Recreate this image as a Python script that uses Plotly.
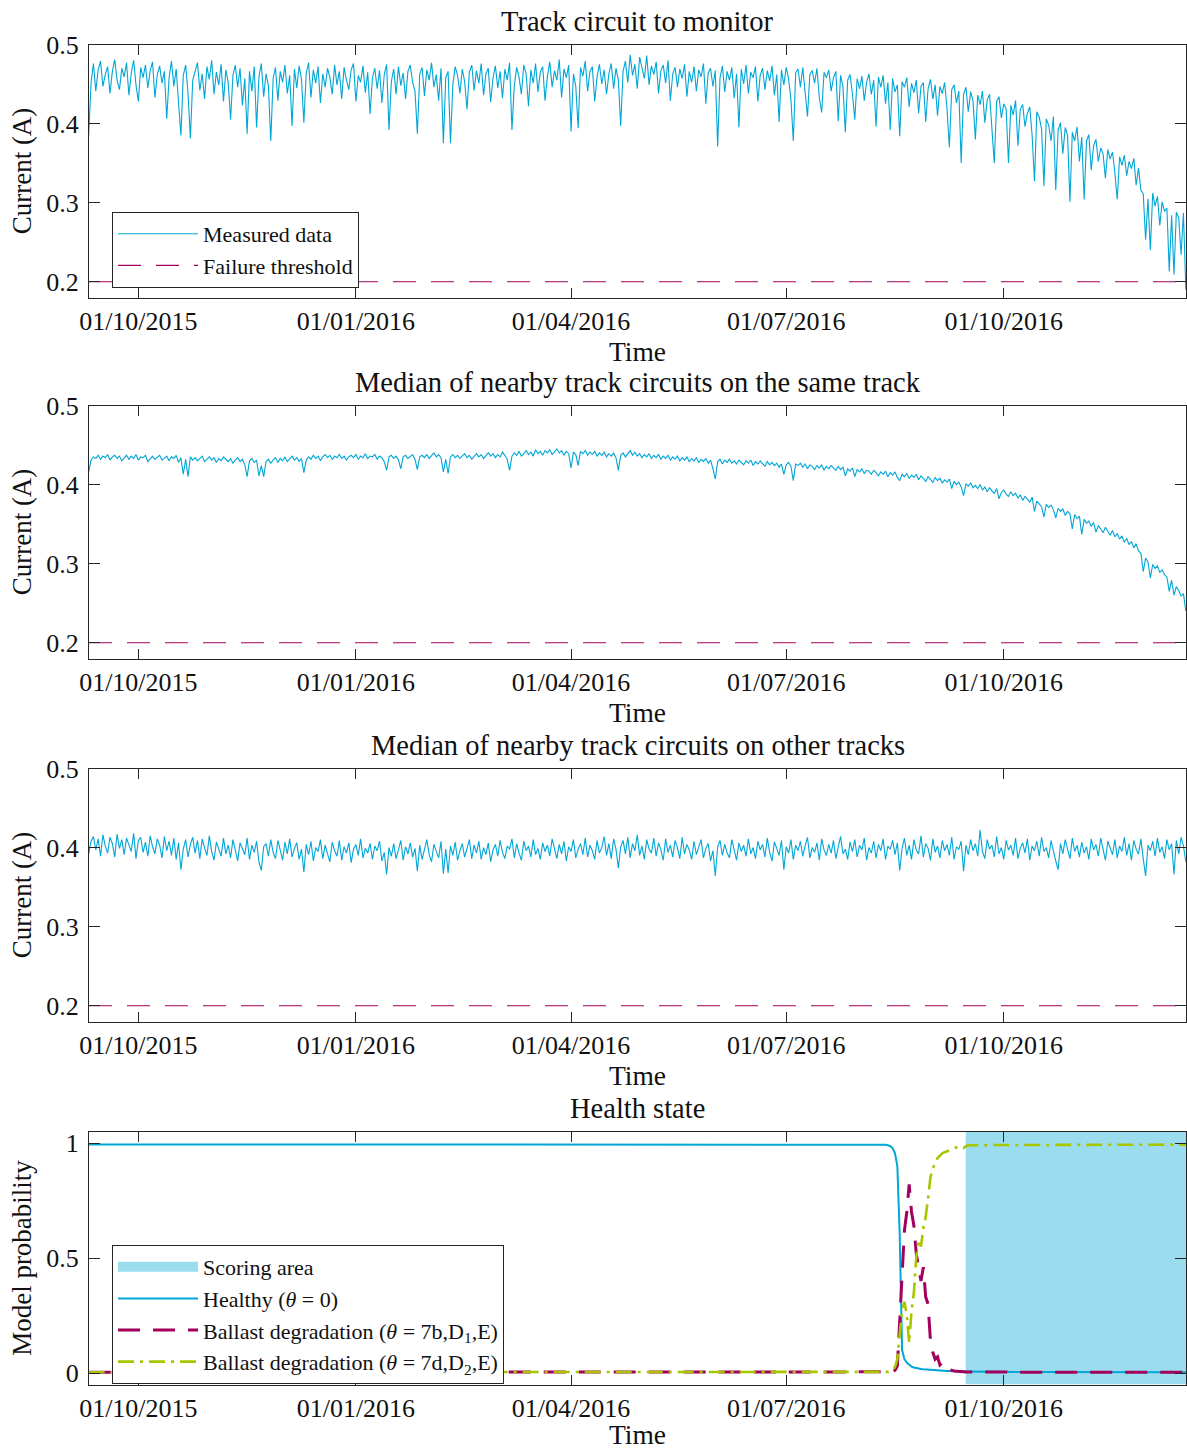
import plotly.graph_objects as go
import pandas as pd

# ---------------- data ----------------
start_date = "2015-09-10"
x_start = "2015-09-10 03:00"
x_end = "2016-12-17 02:00"

tick_dates = ["2015-10-01", "2016-01-01", "2016-04-01", "2016-07-01", "2016-10-01"]
tick_labels = ["01/10/2015", "01/01/2016", "01/04/2016", "01/07/2016", "01/10/2016"]

# Track circuit to monitor (mA, daily)
monitor_mA = [
    385, 452, 476, 441, 468, 479, 447, 462, 472, 438, 466, 481, 455, 443, 470,
    459, 477, 436, 464, 480, 449, 428, 471, 458, 474, 445, 467, 478, 433, 462,
    473, 451, 466, 406, 458, 479, 447, 469, 426, 385, 461, 474, 438, 381, 455,
    468, 477, 442, 463, 431, 472, 456, 480, 437, 465, 449, 475, 428, 468, 452,
    405, 461, 474, 446, 470, 423, 457, 387, 466, 441, 472, 395, 459, 476, 434,
    463, 448, 378, 457, 471, 429, 466, 452, 474, 438, 461, 397, 469, 445, 473,
    456, 401, 464, 477, 433, 468, 451, 472, 426, 463, 446, 470, 458, 437, 474,
    449, 466, 431, 471, 455, 443, 468, 476, 428, 461, 452, 473, 439, 465, 412,
    458, 470, 444, 467, 426, 462, 475, 392, 453, 469, 437, 472, 448, 464, 431,
    466, 474, 452, 441, 387, 463, 471, 435, 468, 455, 477, 446, 462, 429, 470,
    375, 458, 466, 375, 449, 472, 461, 438, 469, 453, 418, 465, 474, 442, 467,
    451, 476, 436, 463, 470, 427, 458, 473, 445, 466, 432, 469, 455, 477, 392,
    448, 471, 459, 437, 474, 463, 422, 468, 451, 476, 440, 465, 472, 429, 460,
    478, 446, 467, 455, 481, 433, 469, 458, 474, 390, 463, 447, 394, 471, 460,
    479, 441, 466, 472, 428, 459, 475, 450, 468, 437, 463, 476, 444, 470, 455,
    397, 466, 479, 452, 487, 461, 475, 444, 484, 468, 457, 486, 449, 473, 462,
    478, 438, 467, 474, 451, 480, 429, 463, 471, 446, 469, 457, 475, 434, 466,
    452, 472, 441, 468, 459, 476, 425, 464, 470, 447, 467, 371, 458, 473, 440,
    466, 455, 471, 432, 463, 395, 469, 450, 474, 438, 465, 458, 472, 428, 461,
    470, 443, 467, 454, 473, 436, 462, 402, 468, 449, 471, 457, 430, 378, 464,
    469, 446, 471, 438, 409, 462, 467, 451, 470, 433, 414, 465, 458, 468, 441,
    458, 466, 403, 461, 447, 389, 455, 462, 438, 405, 457, 444, 460, 429, 452,
    463, 437, 455, 396, 459, 446, 461, 425, 452, 392, 457, 440, 449, 384, 453,
    446, 458, 421, 451, 439, 455, 413, 447, 452, 402, 444, 456, 431, 449, 410,
    447, 438, 452, 419, 370, 443, 449, 426, 441, 350, 437, 446, 415, 440, 429,
    380, 436, 424, 441, 401, 430, 437, 389, 350, 428, 434, 407, 425, 419, 350,
    423, 411, 429, 372, 418, 424, 396, 413, 421, 385, 327, 415, 408, 393, 321,
    406, 398, 378, 409, 316, 392, 401, 362, 395, 385, 301, 389, 378, 396, 352,
    383, 304, 378, 386, 341, 372, 380, 352, 369, 362, 331, 367, 355, 364, 338,
    304, 358, 347, 360, 334, 352, 343, 356, 322, 344, 316, 311, 253, 305, 240,
    312, 296, 308, 271, 301, 289, 293, 213, 284, 209, 288, 281, 234, 287, 190,
]

# Median of nearby track circuits on the same track (mA, daily)
same_track_mA = [
    416, 431, 435, 433, 437, 432, 436, 434, 438, 431, 435, 437, 433, 436, 430,
    434, 437, 432, 436, 433, 438, 431, 435, 434, 437, 429, 433, 436, 432, 435,
    437, 431, 434, 436, 430, 435, 433, 437, 428, 434, 413, 432, 410, 435, 431,
    434, 430, 433, 436, 429, 432, 435, 431, 434, 428, 433, 430, 435, 432, 429,
    433, 427, 431, 434, 429, 432, 425, 410, 430, 433, 428, 431, 411, 424, 410,
    429, 432, 427, 431, 434, 428, 433, 430, 435, 429, 432, 436, 431, 434, 429,
    433, 415, 431, 435, 432, 437, 433, 436, 430, 435, 438, 434, 437, 432, 436,
    434, 438, 433, 436, 431, 435, 437, 434, 438, 432, 436, 434, 439, 433, 436,
    435, 438, 432, 436, 434, 429, 418, 435, 437, 433, 436, 431, 420, 435, 437,
    433, 436, 438, 432, 419, 435, 437, 434, 438, 433, 436, 440, 435, 438, 434,
    416, 432, 414, 435, 438, 434, 437, 433, 436, 439, 434, 437, 432, 436, 439,
    435, 438, 433, 437, 440, 436, 439, 434, 438, 435, 441, 437, 432, 418, 436,
    440, 437, 442, 436, 439, 443, 438, 441, 436, 444, 439, 442, 437, 443, 440,
    444, 438, 442, 445, 440, 443, 437, 442, 439, 421, 441, 438, 424, 442, 439,
    443, 437, 441, 438, 442, 436, 440, 437, 441, 435, 439, 436, 440, 434, 418,
    437, 440, 435, 439, 443, 437, 441, 436, 439, 434, 438, 435, 439, 433, 437,
    434, 438, 432, 436, 433, 437, 431, 435, 432, 436, 430, 434, 431, 435, 429,
    433, 430, 434, 428, 432, 429, 433, 427, 431, 420, 407, 429, 432, 426, 431,
    428, 432, 427, 430, 426, 431, 428, 425, 430, 427, 431, 424, 429, 426, 430,
    427, 423, 429, 425, 428, 424, 427, 422, 426, 413, 425, 428, 423, 405, 426,
    424, 427, 422, 426, 420, 425, 423, 419, 424, 421, 425, 418, 423, 420, 424,
    421, 418, 423, 419, 422, 411, 420, 417, 421, 410, 419, 416, 420, 414, 418,
    417, 413, 418, 415, 411, 416, 413, 417, 410, 415, 412, 416, 409, 405, 413,
    410, 414, 408, 412, 409, 413, 406, 411, 408, 404, 410, 407, 403, 409, 405,
    408, 402, 406, 403, 407, 395, 404, 400, 403, 397, 386, 401, 398, 402, 396,
    399, 395, 400, 393, 397, 391, 396, 392, 389, 395, 382, 390, 393, 388, 385,
    391, 386, 389, 383, 387, 380, 385, 382, 378, 384, 366, 379, 376, 372, 359,
    375, 371, 374, 368, 358, 370, 366, 369, 361, 366, 363, 344, 362, 357, 360,
    337, 356, 351, 354, 347, 352, 340, 348, 344, 339, 346, 341, 336, 342, 334,
    338, 331, 335, 327, 332, 324, 328, 320, 325, 316, 313, 290, 307, 302, 282,
    299, 294, 297, 289, 292, 286, 283, 265, 279, 260, 271, 266, 259, 262, 240,
]

# Median of nearby track circuits on other tracks (mA, daily)
other_tracks_mA = [
    392, 408, 414, 397, 411, 389, 416, 402, 393, 413, 405, 388, 417, 399, 410,
    391, 412, 404, 395, 418, 386, 409, 413, 394, 407, 389, 415, 401, 392, 411,
    403, 387, 414, 396, 408, 390, 412, 385, 406, 372, 398, 410, 388, 404, 413,
    393, 409, 386, 411, 400, 390, 415, 395, 384, 407, 398, 389, 412, 392, 403,
    387, 410, 396, 383, 406, 399, 391, 412, 385, 403, 394, 408, 382, 371, 401,
    405, 389, 410, 394, 386, 409, 397, 384, 407, 392, 411, 388, 399, 406, 385,
    398, 369, 404, 391, 408, 383, 400, 395, 410, 386, 403, 392, 382, 407, 396,
    389, 409, 384, 401, 393, 406, 381, 398, 404, 390, 411, 387, 399, 393, 405,
    385, 402, 396, 408, 383, 394, 366, 400, 389, 405, 386, 397, 409, 384, 401,
    392, 406, 388, 399, 370, 403, 385, 397, 410, 391, 382, 404, 395, 387, 408,
    367, 398, 368, 402, 390, 407, 384, 396, 405, 388, 399, 410, 386, 403, 393,
    408, 385, 400, 391, 406, 382, 397, 404, 389, 409, 394, 386, 402, 398, 411,
    387, 405, 393, 384, 408, 396, 402, 388, 410, 391, 399, 385, 406, 395, 403,
    389, 411, 397, 386, 404, 392, 408, 383, 401, 395, 410, 387, 398, 405, 391,
    412, 388, 403, 396, 385, 409, 393, 400, 414, 390, 405, 386, 411, 398, 374,
    401, 409, 392, 413, 387, 405, 396, 416, 390, 402, 385, 410, 398, 393, 412,
    389, 406, 397, 384, 411, 394, 403, 388, 409, 400, 386, 413, 392, 404, 397,
    385, 408, 391, 402, 410, 387, 399, 405, 383, 396, 364, 401, 409, 390, 404,
    393, 387, 410, 398, 384, 406, 395, 403, 389, 411, 392, 400, 386, 408, 397,
    404, 388, 412, 394, 383, 407, 399, 390, 409, 372, 401, 393, 410, 385, 403,
    396, 408, 389, 402, 413, 387, 400, 394, 406, 384, 411, 397, 390, 404, 393,
    409, 386, 401, 414, 392, 398, 385, 407, 395, 410, 388, 403, 397, 412, 384,
    400, 393, 408, 387, 404, 396, 411, 385, 402, 398, 409, 391, 406, 371, 399,
    412, 390, 403, 385, 410, 397, 392, 415, 388, 405, 399, 384, 411, 394, 402,
    387, 409, 396, 404, 390, 413, 385, 401, 398, 408, 370, 403, 391, 410, 396,
    405, 389, 422, 395, 386, 410, 398, 403, 388, 414, 392, 400, 385, 409, 397,
    403, 390, 412, 386, 399, 406, 393, 411, 384, 402, 396, 408, 389, 413, 395,
    400, 387, 409, 394, 383, 372, 405, 392, 410, 398, 386, 412, 395, 403, 388,
    407, 393, 401, 385, 411, 397, 404, 389, 412, 396, 384, 408, 399, 391, 410,
    387, 402, 395, 413, 390, 405, 384, 409, 398, 392, 411, 386, 364, 403, 396,
    408, 389, 412, 394, 401, 386, 410, 397, 405, 366, 409, 392, 413, 402, 382,
]

failure_threshold = 0.2

# Health state model probabilities
health_dates = (["2015-09-10", "2016-08-05"]
                + [d.strftime("%Y-%m-%d") for d in pd.date_range("2016-08-10", "2016-09-16")]
                + ["2016-09-25", "2016-10-15", x_end])
healthy = [0.994, 0.994,
           0.994, 0.993, 0.992, 0.990, 0.986, 0.978, 0.955, 0.900, 0.600, 0.100,
           0.060, 0.045, 0.035, 0.028, 0.024, 0.021, 0.019, 0.017, 0.016, 0.015,
           0.014, 0.013, 0.012, 0.011, 0.011, 0.010, 0.010, 0.009, 0.009, 0.009,
           0.008, 0.008, 0.008, 0.007, 0.007, 0.007, 0.007, 0.006,
           0.005, 0.004, 0.003]
ballast_7b = [0.003, 0.003,
              0.003, 0.003, 0.004, 0.004, 0.005, 0.007, 0.012, 0.030, 0.220, 0.420,
              0.620, 0.700, 0.820, 0.700, 0.640, 0.520, 0.460, 0.400, 0.460, 0.330,
              0.300, 0.140, 0.090, 0.060, 0.070, 0.035, 0.045, 0.022, 0.018, 0.014,
              0.011, 0.009, 0.008, 0.006, 0.005, 0.005, 0.004, 0.004,
              0.003, 0.003, 0.003]
ballast_7d = [0.003, 0.003,
              0.003, 0.003, 0.004, 0.005, 0.008, 0.012, 0.025, 0.060, 0.170, 0.270,
              0.310, 0.250, 0.130, 0.270, 0.350, 0.500, 0.580, 0.550, 0.630, 0.680,
              0.760, 0.850, 0.890, 0.910, 0.935, 0.945, 0.955, 0.960, 0.965, 0.970,
              0.972, 0.976, 0.980, 0.985, 0.982, 0.978, 0.986, 0.990,
              0.991, 0.992, 0.993]

scoring_start = "2016-09-14 22:00"
current_range = [0.18, 0.5]
prob_range = [-0.05, 1.05]

# ---------------- styling ----------------
FONT = "Liberation Serif"
TXT = "#111111"
AX = "#262626"
BLUE = "rgb(0,166,214)"
MAG = "rgb(162,0,92)"
LIME = "rgb(168,198,0)"
SCORE = "rgb(155,220,238)"
W, H = 1187, 1450

plot_tops = [44.5, 405.5, 768.5, 1131.5]
plot_h = 253.0


def dom(top):
    return [1 - (top + plot_h) / H, 1 - top / H]


def series_dates(vals):
    return pd.date_range(start_date, periods=len(vals), freq="D")


fig = go.Figure()

current_series = [monitor_mA, same_track_mA, other_tracks_mA]
for i, vals in enumerate(current_series):
    xa = "x" if i == 0 else f"x{i+1}"
    ya = "y" if i == 0 else f"y{i+1}"
    fig.add_trace(go.Scatter(
        x=series_dates(vals), y=[v / 1000 for v in vals], mode="lines",
        line=dict(color=BLUE, width=1.1), name="Measured data",
        xaxis=xa, yaxis=ya, showlegend=(i == 0), legend="legend"))
    fig.add_trace(go.Scatter(
        x=[x_start, x_end], y=[failure_threshold, failure_threshold], mode="lines",
        line=dict(color=MAG, width=1.1, dash="23px,15px"), name="Failure threshold",
        xaxis=xa, yaxis=ya, showlegend=(i == 0), legend="legend"))

# Health state
fig.add_trace(go.Scatter(
    x=[scoring_start, x_end, x_end, scoring_start, scoring_start],
    y=[prob_range[0], prob_range[0], prob_range[1], prob_range[1], prob_range[0]],
    mode="lines", fill="toself", fillcolor=SCORE, line=dict(width=0, color=SCORE),
    name="Scoring area", xaxis="x4", yaxis="y4", showlegend=False,
    legendgroup="score"))
# legend entry for the scoring area (wide filled swatch)
fig.add_trace(go.Scatter(
    x=[None], y=[None], mode="lines", line=dict(color=SCORE, width=10),
    name="Scoring area", xaxis="x4", yaxis="y4", legend="legend2",
    legendgroup="score"))
fig.add_trace(go.Scatter(
    x=health_dates, y=healthy, mode="lines", line=dict(color=BLUE, width=2),
    name="Healthy (<i>θ</i> = 0)", xaxis="x4", yaxis="y4", legend="legend2"))
fig.add_trace(go.Scatter(
    x=health_dates, y=ballast_7b, mode="lines",
    line=dict(color=MAG, width=3, dash="22px,13px"),
    name="Ballast degradation (<i>θ</i> = 7b,D<sub>1</sub>,E)",
    xaxis="x4", yaxis="y4", legend="legend2"))
fig.add_trace(go.Scatter(
    x=health_dates, y=ballast_7d, mode="lines",
    line=dict(color=LIME, width=2.6, dash="16px,6px,3px,6px"),
    name="Ballast degradation (<i>θ</i> = 7d,D<sub>2</sub>,E)",
    xaxis="x4", yaxis="y4", legend="legend2"))

titles = ["Track circuit to monitor",
          "Median of nearby track circuits on the same track",
          "Median of nearby track circuits on other tracks",
          "Health state"]
ytitles = ["Current (A)", "Current (A)", "Current (A)", "Model probability"]

layout = dict(
    width=W, height=H, margin=dict(l=89, r=1, t=0, b=0, autoexpand=False),
    paper_bgcolor="white", plot_bgcolor="white",
    font=dict(family=FONT, color=TXT, size=26),
    annotations=[],
)

for i in range(4):
    sfx = "" if i == 0 else str(i + 1)
    layout["xaxis" + sfx] = dict(
        domain=[0, 1], type="date", range=[x_start, x_end],
        tickvals=tick_dates, ticktext=tick_labels,
        ticks="inside", ticklen=10, tickwidth=1, tickcolor=AX,
        showline=True, linecolor=AX, linewidth=1, mirror="ticks",
        showgrid=False, zeroline=False, automargin=False,
        tickfont=dict(family=FONT, size=26, color=TXT),
        ticklabelstandoff=0,
        title=dict(text="Time", font=dict(family=FONT, size=27.5, color=TXT), standoff=6),
        anchor="y" + sfx,
    )
    if i < 3:
        yt = dict(range=current_range, tickvals=[0.2, 0.3, 0.4, 0.5],
                  ticktext=["0.2", "0.3", "0.4", "0.5"])
    else:
        yt = dict(range=prob_range, tickvals=[0, 0.5, 1], ticktext=["0", "0.5", "1"])
    layout["yaxis" + sfx] = dict(
        domain=dom(plot_tops[i]), **yt,
        ticks="inside", ticklen=11, tickwidth=1, tickcolor=AX,
        showline=True, linecolor=AX, linewidth=1, mirror="ticks",
        showgrid=False, zeroline=False, automargin=False,
        tickfont=dict(family=FONT, size=26, color=TXT),
        ticklabelstandoff=4,
        title=dict(text=ytitles[i], font=dict(family=FONT, size=27, color=TXT), standoff=6),
        anchor="x" + sfx,
    )
    layout["annotations"].append(dict(
        text=titles[i], xref="paper", yref="paper", x=0.5, y=1 - (plot_tops[i] - 23.5) / H,
        xanchor="center", yanchor="middle", showarrow=False,
        font=dict(family=FONT, size=28.5, color=TXT)))

layout["legend"] = dict(
    x=0.021, y=1 - 212 / H, xanchor="left", yanchor="top",
    bgcolor="white", bordercolor=AX, borderwidth=1,
    font=dict(family=FONT, size=22, color=TXT), itemwidth=80,
    tracegroupgap=0)
layout["legend2"] = dict(
    x=0.021, y=1 - 1245 / H, xanchor="left", yanchor="top",
    bgcolor="white", bordercolor=AX, borderwidth=1,
    font=dict(family=FONT, size=22, color=TXT), itemwidth=80,
    tracegroupgap=0)

fig.update_layout(**layout)
fig.write_html("out.html")
